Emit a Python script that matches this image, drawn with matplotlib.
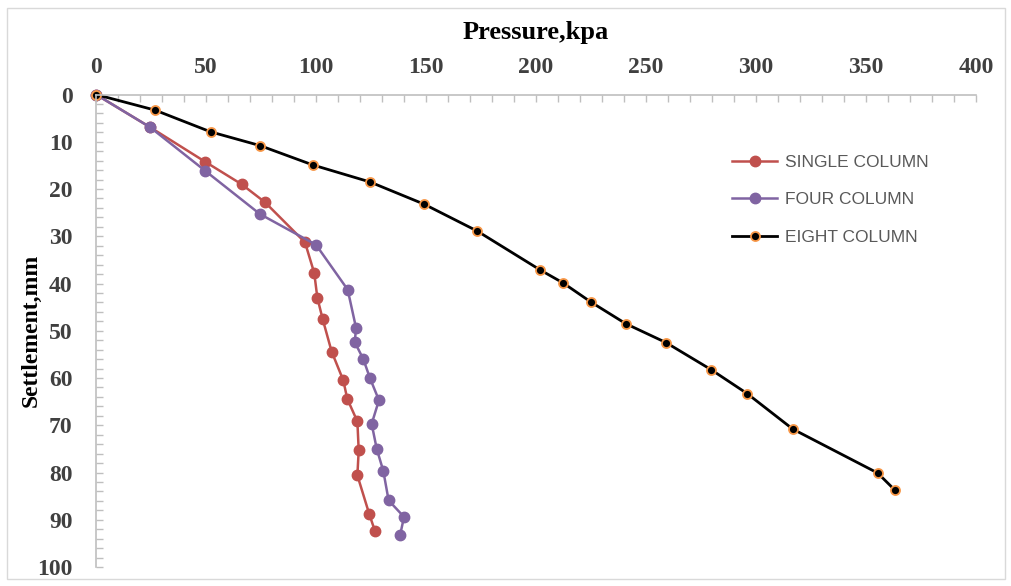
import numpy as np
import matplotlib.pyplot as plt
from matplotlib.ticker import MultipleLocator
from matplotlib.patches import Rectangle

# pressure (kPa) and settlement (mm)
single_p = [0, 24.5, 49.5, 66.2, 76.8, 95.0, 99.2, 100.6, 103.0, 107.1, 112.4,
            114.2, 118.8, 119.4, 118.8, 124.2, 126.8]
single_s = [0, 6.9, 14.2, 19.0, 22.8, 31.3, 37.8, 43.0, 47.5, 54.4, 60.5,
            64.4, 69.2, 75.3, 80.6, 88.8, 92.4]

four_p = [0, 24.5, 49.5, 74.5, 100.0, 114.4, 118.2, 117.6, 121.5, 124.5, 128.6,
          125.3, 127.6, 130.6, 133.0, 140.0, 138.2]
four_s = [0, 6.9, 16.1, 25.3, 31.8, 41.3, 49.4, 52.4, 56.0, 60.0, 64.7,
          69.7, 75.0, 79.7, 85.9, 89.4, 93.3]

eight_p = [0, 26.8, 52.1, 74.5, 98.5, 124.5, 149.1, 173.3, 201.8, 212.4, 224.9,
           240.8, 259.1, 279.5, 296.0, 316.7, 355.3, 363.3]
eight_s = [0, 3.3, 7.9, 10.8, 14.9, 18.5, 23.2, 28.9, 37.1, 39.9, 43.9,
           48.5, 52.5, 58.2, 63.3, 70.8, 80.1, 83.8]

fig = plt.figure(figsize=(10.12, 5.86), dpi=100)
ax = fig.add_axes([0.0949, 0.0324, 0.8695, 0.8063])

# light chart-area frame
fig.patches.append(Rectangle((0.007, 0.012), 0.986, 0.974, transform=fig.transFigure,
                             fill=False, edgecolor='#D9D9D9', lw=1))

ax.plot(single_p, single_s, color='#C0504D', lw=1.8, marker='o', ms=7.5,
        label='SINGLE COLUMN', clip_on=False)
ax.plot(four_p, four_s, color='#8064A2', lw=1.8, marker='o', ms=7.5,
        label='FOUR COLUMN', clip_on=False)
ax.plot(eight_p, eight_s, color='black', lw=2, marker='o', ms=6.5,
        mfc='black', mec='#F79646', mew=1.3, label='EIGHT COLUMN', clip_on=False)

ax.set_xlim(0, 400)
ax.set_ylim(100, 0)
ax.xaxis.set_major_locator(MultipleLocator(50))
ax.xaxis.set_minor_locator(MultipleLocator(10))
ax.yaxis.set_major_locator(MultipleLocator(10))
ax.yaxis.set_minor_locator(MultipleLocator(2))
ax.xaxis.tick_top()
ax.xaxis.set_label_position('top')

for s in ['right', 'bottom']:
    ax.spines[s].set_visible(False)
for s in ['top', 'left']:
    ax.spines[s].set_color('#BFBFBF')
    ax.spines[s].set_linewidth(1.2)

ax.tick_params(which='both', direction='in', length=5, color='#BFBFBF', width=1)
ax.tick_params(axis='x', which='major', pad=12)
ax.tick_params(axis='y', which='major', pad=17)
for lab in ax.get_xticklabels() + ax.get_yticklabels():
    lab.set_family('Liberation Serif')
    lab.set_fontweight('bold')
    lab.set_fontsize(17)
    lab.set_color('#404040')

ax.set_title('Pressure,kpa', family='Liberation Serif', fontweight='bold',
             fontsize=19, pad=40)
ax.set_ylabel('Settlement,mm', family='Liberation Serif', fontweight='bold',
              fontsize=17, labelpad=-3)

leg = ax.legend(loc='upper left', bbox_to_anchor=(0.705, 0.905), frameon=False,
                prop={'family': 'Liberation Sans', 'size': 12.5},
                labelspacing=1.27, handlelength=2.6, handletextpad=0.45)
for t in leg.get_texts():
    t.set_color('#595959')

fig.savefig('out.png', dpi=100)
